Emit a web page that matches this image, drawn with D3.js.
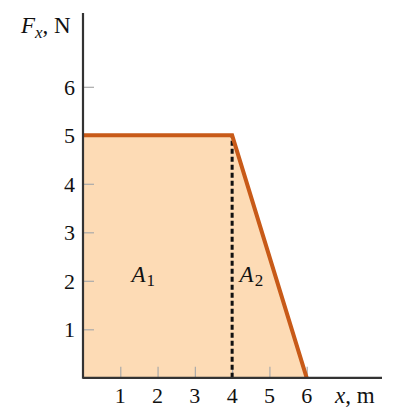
<!DOCTYPE html>
<html><head><meta charset="utf-8">
<script src="https://cdn.jsdelivr.net/npm/d3@7"></script>
<style>body{margin:0;background:#fff}</style>
</head><body>
<svg id="c" width="400" height="420"></svg>
<script>
const xs = [0, 4, 6];
const fs = [5, 5, 0];
const xTicks = [1, 2, 3, 4, 5, 6];
const yTicks = [1, 2, 3, 4, 5, 6];
const divider = [4];
const areaLabels = [{name: "A", sub: "1", x: 1.3, y: 2}, {name: "A", sub: "2", x: 4.2, y: 2}];

const svg = d3.select("#c");
const font = "'Liberation Serif', 'DejaVu Serif', serif";
const x = d3.scaleLinear().domain([0, 6]).range([83, 306.7]);
const y = d3.scaleLinear().domain([0, 5]).range([377.8, 135.3]);
const pts = xs.map((v, i) => [v, fs[i]]);

// fill
svg.append("path")
  .datum(pts)
  .attr("d", d3.area().x(d => x(d[0])).y0(y(0)).y1(d => y(d[1])))
  .attr("fill", "#fddbb5");

// ticks (inward, gray)
const gx = svg.append("g").attr("transform", `translate(0,${y(0)})`)
  .call(d3.axisTop(x).tickValues(xTicks).tickSize(11).tickFormat(""));
gx.select(".domain").remove();
gx.selectAll("line").attr("stroke", "#aaa").attr("stroke-width", 1.2);
const gy = svg.append("g").attr("transform", `translate(${x(0)},0)`)
  .call(d3.axisRight(y).tickValues(yTicks).tickSize(11).tickFormat(""));
gy.select(".domain").remove();
gy.selectAll("line").attr("stroke", "#aaa").attr("stroke-width", 1.2);

// tick labels
svg.append("g").selectAll("text").data(xTicks).join("text")
  .attr("x", d => x(d)).attr("y", 403).attr("text-anchor", "middle")
  .attr("font-family", font).attr("font-size", 22).attr("fill", "#111")
  .text(d => d);
svg.append("g").selectAll("text").data(yTicks).join("text")
  .attr("x", 75).attr("y", d => y(d)).attr("dy", "0.35em").attr("text-anchor", "end")
  .attr("font-family", font).attr("font-size", 22).attr("fill", "#111")
  .text(d => d);

// dashed divider
svg.append("g").selectAll("line").data(divider).join("line")
  .attr("x1", d => x(d)).attr("x2", d => x(d))
  .attr("y1", y(0)).attr("y2", y(5))
  .attr("stroke", "#111").attr("stroke-width", 3).attr("stroke-dasharray", "5,3");

// main line
svg.append("path")
  .datum(pts)
  .attr("d", d3.line().x(d => x(d[0])).y(d => y(d[1])))
  .attr("fill", "none").attr("stroke", "#c85a18").attr("stroke-width", 4)
  .attr("stroke-linejoin", "miter");

// axes lines
svg.append("line").attr("x1", x(0)).attr("x2", 382).attr("y1", y(0)).attr("y2", y(0))
  .attr("stroke", "#333").attr("stroke-width", 2.2);
svg.append("line").attr("x1", x(0)).attr("x2", x(0)).attr("y1", 13).attr("y2", y(0) + 1)
  .attr("stroke", "#333").attr("stroke-width", 2.2);

// area labels
areaLabels.forEach(l => {
  const t = svg.append("text").attr("x", x(l.x)).attr("y", y(l.y) + 1)
    .attr("font-family", font).attr("font-size", 23).attr("fill", "#111");
  t.append("tspan").attr("font-style", "italic").text(l.name);
  t.append("tspan").attr("font-size", 17).attr("dy", 4).attr("dx", 1).text(l.sub);
});

// axis titles
const ty = svg.append("text").attr("x", 21).attr("y", 33)
  .attr("font-family", font).attr("font-size", 23).attr("fill", "#111");
ty.append("tspan").attr("font-style", "italic").text("F");
ty.append("tspan").attr("font-style", "italic").attr("font-size", 17).attr("dy", 5).text("x");
ty.append("tspan").attr("dy", -5).text(", N");

const tx = svg.append("text").attr("x", 335).attr("y", 403)
  .attr("font-family", font).attr("font-size", 23).attr("fill", "#111");
tx.append("tspan").attr("font-style", "italic").text("x");
tx.append("tspan").text(", m");
</script>
</body></html>
